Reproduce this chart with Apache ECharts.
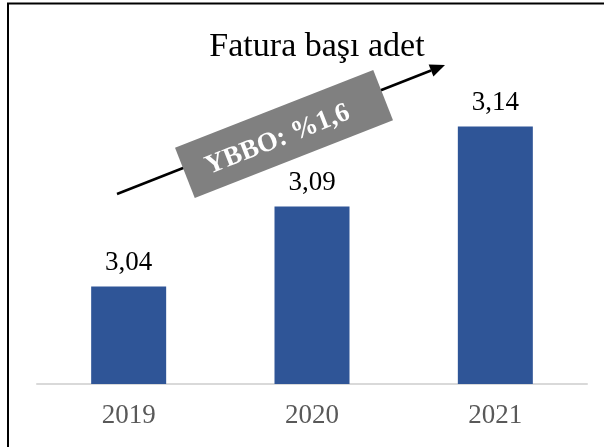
<!DOCTYPE html>
<html>
<head>
<meta charset="utf-8">
<script src="https://cdn.jsdelivr.net/npm/echarts@6/dist/echarts.min.js"></script>
<style>
  html, body { margin: 0; padding: 0; background: #fff; }
  #chart { width: 604px; height: 447px; }
</style>
</head>
<body>
<div id="chart"></div>
<script>
// chart data
var years = ['2019', '2020', '2021'];
var perInvoice = [3.04, 3.09, 3.14];
var growthNote = 'YBBO: %1,6';
var chartTitle = 'Fatura başı adet';

var serif = '"Liberation Serif", "Times New Roman", serif';

// arrow geometry (annotation only)
var arrowStart = [117, 194];
var arrowTip = [445, 65];
var dx = arrowTip[0] - arrowStart[0], dy = arrowTip[1] - arrowStart[1];
var len = Math.sqrt(dx * dx + dy * dy);
var ux = dx / len, uy = dy / len;
var headLen = 15, headHalf = 6.5;
var base = [arrowTip[0] - headLen * ux, arrowTip[1] - headLen * uy];
var angle = Math.atan2(-dy, dx);

var myChart = echarts.init(document.getElementById('chart'));

var option = {
  backgroundColor: '#fff',
  animation: false,
  title: {
    text: chartTitle,
    left: 312,
    textAlign: 'center',
    top: 25,
    textStyle: { fontFamily: serif, fontSize: 34, fontWeight: 'normal', color: '#000' }
  },
  grid: { left: 37, right: 17, top: 100, bottom: 63 },
  xAxis: {
    type: 'category',
    data: years,
    axisLine: { show: true, lineStyle: { color: '#d9d9d9', width: 2 } },
    axisTick: { show: false },
    axisLabel: { fontFamily: serif, fontSize: 27, color: '#595959', margin: 18 }
  },
  yAxis: {
    type: 'value',
    min: 2.979,
    max: 3.1565,
    show: false,
    splitLine: { show: false }
  },
  series: [{
    type: 'bar',
    data: perInvoice,
    barWidth: 75,
    itemStyle: { color: '#2f5597' },
    label: {
      show: true,
      position: 'top',
      distance: 10,
      fontFamily: serif,
      fontSize: 27,
      color: '#000',
      formatter: function (p) { return p.value.toFixed(2).replace('.', ','); }
    }
  }],
  graphic: [
    {
      type: 'rect',
      shape: { x: 8, y: 3.5, width: 620, height: 460 },
      style: { fill: 'none', stroke: '#000', lineWidth: 2 },
      z: 100
    },
    {
      type: 'line',
      shape: { x1: arrowStart[0], y1: arrowStart[1], x2: base[0], y2: base[1] },
      style: { stroke: '#000', lineWidth: 2.5 },
      z: 100
    },
    {
      type: 'polygon',
      shape: {
        points: [
          arrowTip,
          [base[0] + headHalf * uy, base[1] - headHalf * ux],
          [base[0] - headHalf * uy, base[1] + headHalf * ux]
        ]
      },
      style: { fill: '#000' },
      z: 100
    },
    {
      type: 'group',
      x: 284,
      y: 134,
      rotation: angle,
      children: [
        {
          type: 'rect',
          z: 110,
          shape: { x: -106.5, y: -27, width: 213, height: 54 },
          style: { fill: '#808080' }
        },
        {
          type: 'text',
          z: 111,
          x: -8,
          y: 3,
          style: {
            text: growthNote,
            fill: '#fff',
            font: 'bold 27px ' + serif,
            align: 'center',
            verticalAlign: 'middle'
          }
        }
      ]
    }
  ]
};

myChart.setOption(option);
</script>
</body>
</html>
